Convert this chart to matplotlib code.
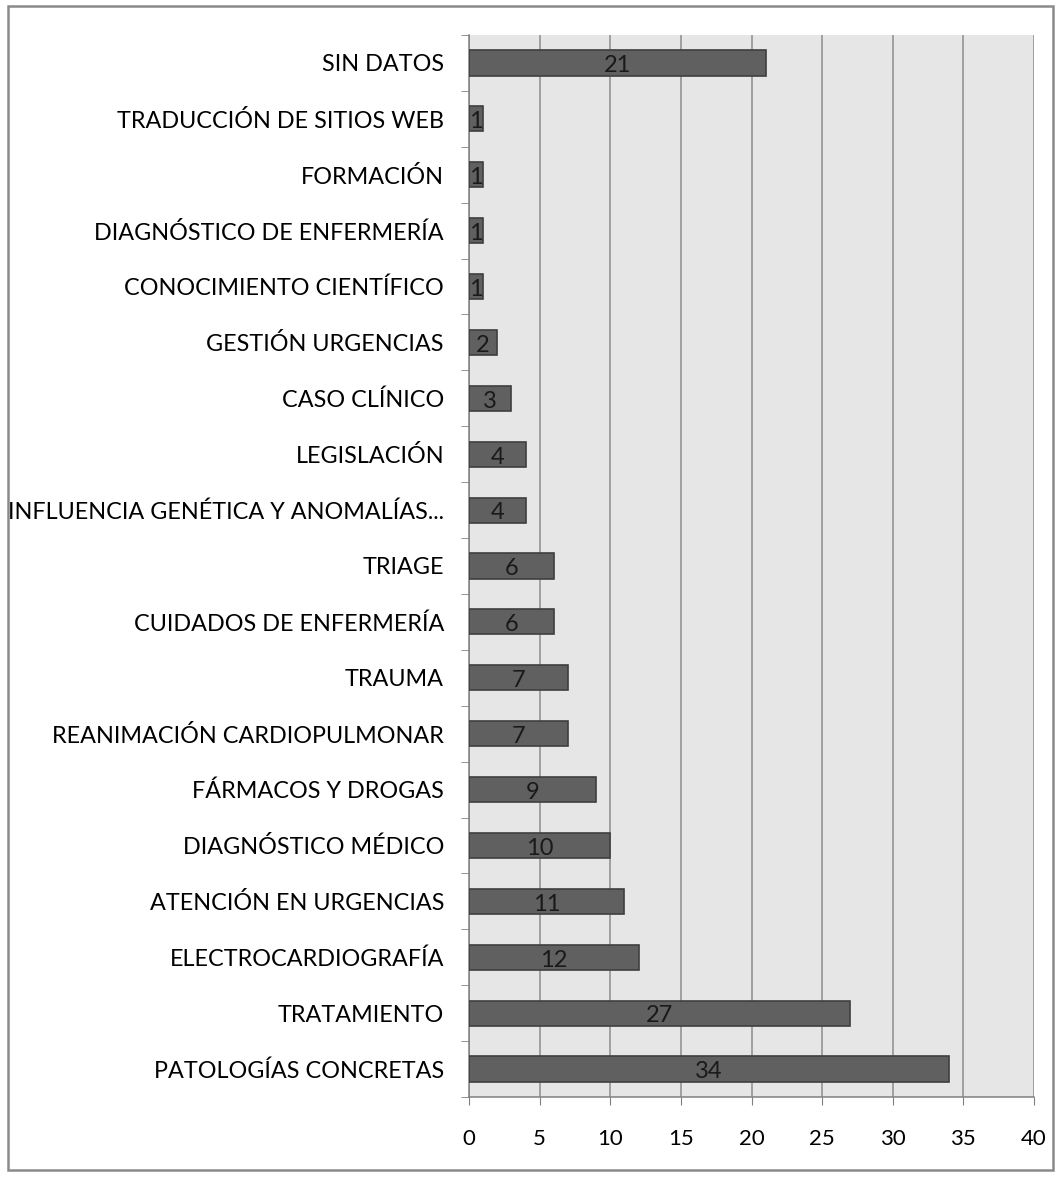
import numpy as np
import matplotlib.pyplot as plt
from matplotlib.patches import Rectangle

categories = [
    "PATOLOGÍAS CONCRETAS", "TRATAMIENTO", "ELECTROCARDIOGRAFÍA",
    "ATENCIÓN EN URGENCIAS", "DIAGNÓSTICO MÉDICO", "FÁRMACOS Y DROGAS",
    "REANIMACIÓN CARDIOPULMONAR", "TRAUMA", "CUIDADOS DE ENFERMERÍA",
    "TRIAGE", "INFLUENCIA GENÉTICA Y ANOMALÍAS...", "LEGISLACIÓN",
    "CASO CLÍNICO", "GESTIÓN URGENCIAS", "CONOCIMIENTO CIENTÍFICO",
    "DIAGNÓSTICO DE ENFERMERÍA", "FORMACIÓN", "TRADUCCIÓN DE SITIOS WEB",
    "SIN DATOS",
]
values = [34, 27, 12, 11, 10, 9, 7, 7, 6, 6, 4, 4, 3, 2, 1, 1, 1, 1, 21]
xticks = [0, 5, 10, 15, 20, 25, 30, 35, 40]

plt.rcParams["font.family"] = ["Lato", "DejaVu Sans"]

W, H = 1061, 1177
fig = plt.figure(figsize=(W / 100, H / 100), dpi=100)

# outer chart border
fig.patches.append(Rectangle((8 / W, 1 - 1170 / H), 1045 / W, 1164 / H,
                             transform=fig.transFigure, fill=False,
                             edgecolor="#8a8a8a", linewidth=1.8))

left, right, top, bottom = 469, 1034, 35, 1097
ax = fig.add_axes([left / W, 1 - bottom / H, (right - left) / W, (bottom - top) / H])
ax.set_facecolor("#e6e6e6")

y = np.arange(len(categories))
ax.barh(y, values, height=0.45, color="#606060", edgecolor="#3f3f3f", linewidth=1.2, zorder=3)
for yi, v in zip(y, values):
    ax.text(v / 2, yi - 0.05, str(v), ha="center", va="center", fontsize=17, color="#1a1a1a", zorder=4)

ax.set_xlim(0, 40)
ax.set_ylim(-0.5, len(categories) - 0.5)
ax.set_xticks(xticks)
ax.set_xticklabels([str(t) for t in xticks], fontsize=16)
ax.set_yticks(y)
ax.set_yticklabels(categories, fontsize=16.8)
ax.set_yticks(np.arange(-0.5, len(categories), 1), minor=True)
ax.tick_params(axis="y", which="major", length=0, pad=18)
ax.tick_params(axis="y", which="minor", length=6, color="#808080", direction="out")
ax.tick_params(axis="x", length=6, color="#808080", direction="out", pad=17)
ax.grid(axis="x", color="#8c8c8c", linewidth=1.1, zorder=1)
ax.set_axisbelow(True)

for side in ["top", "right"]:
    ax.spines[side].set_visible(False)
for side in ["left", "bottom"]:
    ax.spines[side].set_color("#808080")
    ax.spines[side].set_linewidth(1.1)

fig.savefig("out.png", dpi=100)
